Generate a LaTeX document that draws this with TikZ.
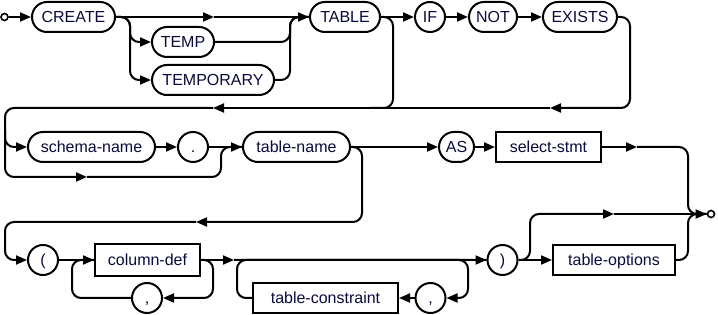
\documentclass[tikz,border=0pt]{standalone}
\usepackage{fontspec}
\setmainfont{Liberation Sans}
\usetikzlibrary{arrows.meta}
\definecolor{txt}{RGB}{10,10,60}
\begin{document}
\begin{tikzpicture}[x=1pt,y=-1pt,
  base/.style={draw, line width=2pt, inner sep=0pt, text height=11pt, text depth=0pt,
    font=\fontsize{16}{19}\selectfont, text=txt, minimum height=30pt},
  term/.style={base, rounded corners=15pt},
  cterm/.style={base, circle, minimum size=30pt},
  nterm/.style={base, rectangle},
  ln/.style={line width=2pt, rounded corners=9pt},
  ar/.style={ln, -{Triangle[length=11pt,width=9pt]}},
  dotc/.style={draw, circle, line width=1.6pt, minimum size=7pt, inner sep=0pt}]
\useasboundingbox (0,0) rectangle (718,315);
% nodes
\node[dotc] (start) at (4.5,17) {};
\node[term, minimum width=83] (create) at (73.5,17) {CREATE};
\node[term, minimum width=62] (temp) at (183,42) {TEMP};
\node[term, minimum width=122] (tempo) at (213,80) {TEMPORARY};
\node[term, minimum width=70] (table) at (345,17) {TABLE};
\node[cterm] (if) at (430,17) {IF};
\node[term, minimum width=48] (not) at (493,17) {NOT};
\node[term, minimum width=74] (exists) at (580,17) {EXISTS};
\node[term, minimum width=127] (schema) at (91.5,147) {schema-name};
\node[cterm] (dot) at (193,147) {.};
\node[term, minimum width=107] (tname) at (296.5,147) {table-name};
\node[term, minimum width=35] (as) at (456.5,147) {AS};
\node[nterm, minimum width=105] (select) at (548.5,147) {select-stmt};
\node[cterm] (lp) at (43,260) {(};
\node[nterm, minimum width=105, minimum height=32] (coldef) at (147.5,260) {column-def};
\node[cterm] (comma1) at (147,298) {,};
\node[nterm, minimum width=145] (tcons) at (325.5,298) {table-constraint};
\node[cterm] (comma2) at (430.5,298) {,};
\node[cterm] (rp) at (502.5,260) {)};
\node[nterm, minimum width=122] (topt) at (614,260) {table-options};
\node[dotc] (end) at (711,214) {};
% helper coordinates
\coordinate (m1) at (214,17);
\coordinate (r1) at (550,108);
\coordinate (r2) at (213,108);
\coordinate (b1) at (87,177);
\coordinate (s1) at (637,147);
\coordinate (r3) at (196,222);
\coordinate (c1) at (234,260);
\coordinate (e1) at (614,214);
% row 1
\draw[ar] (start) -- (create);
\draw[ar] (create.east) -- (m1);
\draw[ar] (m1) -- (table.west);
\draw[ar] (create.east) -- (130,17) -- (130,42) -- (temp.west);
\draw[ar] (create.east) -- (130,17) -- (130,80) -- (tempo.west);
\draw[ln] (temp.east) -- (290,42) -- (290,17) -- (table.west);
\draw[ln] (tempo.east) -- (290,80) -- (290,17) -- (table.west);
\draw[ar] (table) -- (if);
\draw[ar] (if) -- (not);
\draw[ar] (not) -- (exists);
\draw[ln] (table.east) -- (393,17) -- (393,108) -- (370,108);
\draw[ar] (exists.east) -- (630,17) -- (630,108) -- (r1);
\draw[ar] (r1) -- (r2);
% row 2
\draw[ar] (r2) -- (5,108) -- (5,177) -- (b1);
\draw[ar] (5,130) -- (5,147) -- (schema.west);
\draw[ar] (schema) -- (dot);
\draw[ar] (dot.east) -- (tname.west);
\draw[ln] (b1) -- (221,177) -- (221,147) -- (tname.west);
\draw[ar] (tname.east) -- (as.west);
\draw[ar] (as) -- (select);
\draw[ar] (select.east) -- (s1);
\draw[ln] (s1) -- (688,147) -- (688,214) -- (end.west);
\draw[ar] (tname.east) -- (362,147) -- (362,222) -- (r3);
% row 3
\draw[ar] (r3) -- (5,222) -- (5,260) -- (lp.west);
\draw[ar] (lp) -- (coldef);
\draw[ar] (coldef.east) -- (c1);
\draw[ar] (c1) -- (rp.west);
\draw[ar] (coldef.east) -- (213,260) -- (213,298) -- (comma1.east);
\draw[ln] (comma1.west) -- (72,298) -- (72,260) -- (coldef.west);
\draw[ar] (c1) -- (468,260) -- (468,298) -- (comma2.east);
\draw[ar] (comma2) -- (tcons);
\draw[ln] (tcons.west) -- (237,298) -- (237,260) -- (rp.west);
\draw[ar] (rp) -- (topt);
\draw[ar] (rp.east) -- (530,260) -- (530,214) -- (e1);
\draw[ar] (e1) -- (end.west);
\draw[ln] (topt.east) -- (688,260) -- (688,214) -- (end.west);
\end{tikzpicture}
\end{document}
